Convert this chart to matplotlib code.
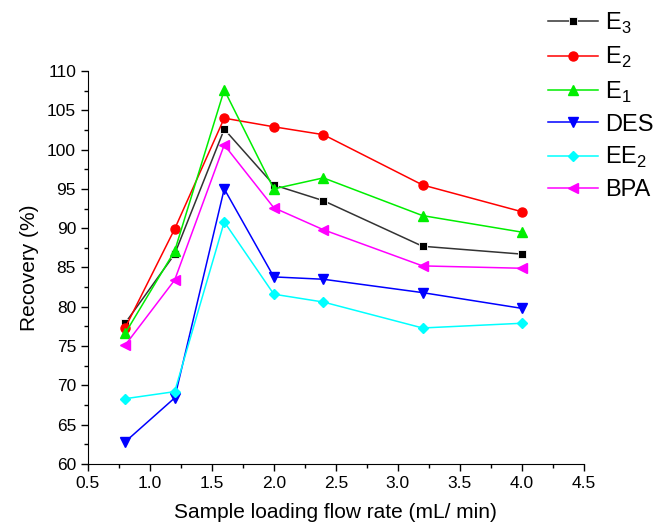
import numpy as np
import matplotlib
matplotlib.use("Agg")
import matplotlib.pyplot as plt
from matplotlib.ticker import MultipleLocator

plt.rcParams['font.family'] = ['Liberation Sans', 'DejaVu Sans']
plt.rcParams['mathtext.fontset'] = 'custom'
plt.rcParams['mathtext.rm'] = 'Liberation Sans'

# flow rate (mL/min) and recoveries (%)
flow = [0.8, 1.2, 1.6, 2.0, 2.4, 3.2, 4.0]
e3 = [77.9, 86.7, 102.6, 95.5, 93.5, 87.7, 86.7]
e2 = [77.3, 89.9, 104.0, 102.9, 101.9, 95.5, 92.1]
e1 = [76.6, 87.1, 107.6, 95.0, 96.4, 91.6, 89.5]
des = [62.8, 68.4, 95.0, 83.8, 83.5, 81.8, 79.8]
ee2 = [68.3, 69.2, 90.8, 81.6, 80.6, 77.3, 77.9]
bpa = [75.1, 83.4, 100.6, 92.6, 89.8, 85.2, 84.9]

labels = ['E$_3$', 'E$_2$', 'E$_1$', 'DES', 'EE$_2$', 'BPA']
series = [e3, e2, e1, des, ee2, bpa]
colors = ['black', 'red', '#00ee00', 'blue', 'cyan', 'magenta']
markers = ['s', 'o', '^', 'v', 'D', '<']
msizes = [5.5, 6.5, 7, 7, 5.5, 7]

fig = plt.figure(figsize=(6.61, 5.26), dpi=100)
ax = fig.add_axes([0.133, 0.118, 0.75, 0.747])

handles = []
for y, lab, c, m, ms in zip(series, labels, colors, markers, msizes):
    h, = ax.plot(flow, y, color=c, marker=m, markersize=ms, lw=1.1,
                 markerfacecolor=c, markeredgecolor=c, label=lab)
    handles.append(h)
# black series: grey line, square with a thin white rim
handles[0].set_color('#333333')
handles[0].set_markerfacecolor('black')
handles[0].set_markeredgecolor('white')
handles[0].set_markeredgewidth(0.6)

ax.set_xlim(0.5, 4.5)
ax.set_ylim(60, 110)
ax.xaxis.set_major_locator(MultipleLocator(0.5))
ax.xaxis.set_minor_locator(MultipleLocator(0.25))
ax.yaxis.set_major_locator(MultipleLocator(5))
ax.yaxis.set_minor_locator(MultipleLocator(2.5))
ax.xaxis.set_major_formatter(matplotlib.ticker.FormatStrFormatter('%.1f'))

for s in ['top', 'right']:
    ax.spines[s].set_visible(False)
ax.tick_params(which='major', direction='out', length=5, width=1, labelsize=12.5)
ax.tick_params(which='minor', direction='out', length=3, width=1)

ax.set_xlabel('Sample loading flow rate (mL/ min)', fontsize=15, labelpad=9)
ax.set_ylabel('Recovery (%)', fontsize=15, labelpad=6)

fig.legend(handles=handles, loc='upper left', bbox_to_anchor=(0.829, 0.98),
           frameon=False, fontsize=17, handlelength=2.1, handletextpad=0.3,
           labelspacing=0.39, borderaxespad=0, borderpad=0)

fig.savefig('out.png', dpi=100)
